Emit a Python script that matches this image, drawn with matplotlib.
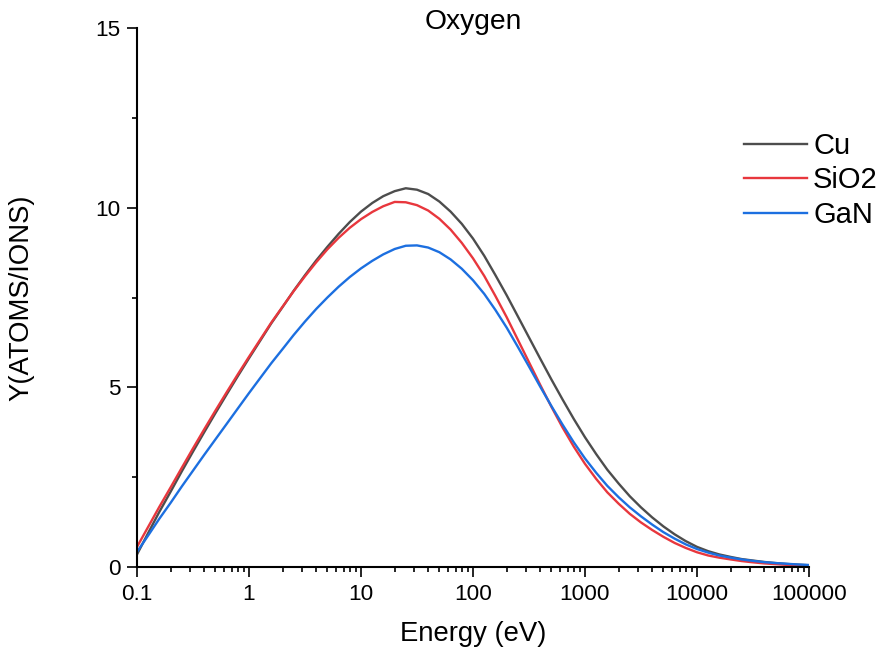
import matplotlib
matplotlib.use("Agg")
import matplotlib.pyplot as plt
from matplotlib.ticker import LogLocator, MultipleLocator, NullFormatter


# -----------------------------
# Data
# -----------------------------

energy = [0.1, 0.126, 0.158, 0.2, 0.251, 0.316, 0.398, 0.501, 0.631, 0.794,
          1, 1.26, 1.58, 2, 2.51, 3.16, 3.98, 5.01, 6.31, 7.94,
          10, 12.6, 15.8, 20, 25.1, 31.6, 39.8, 50.1, 63.1, 79.4,
          100, 126, 158, 200, 251, 316, 398, 501, 631, 794,
          1000, 1260, 1580, 2000, 2510, 3160, 3980, 5010, 6310, 7940,
          10000, 12600, 15800, 20000, 25100, 31600, 39800, 50100, 63100,
          79400, 100000]

yield_cu = [0.35, 0.95, 1.53, 2.10, 2.66, 3.21, 3.75, 4.28, 4.80, 5.31,
            5.81, 6.30, 6.78, 7.24, 7.69, 8.12, 8.53, 8.91, 9.27, 9.60,
            9.89, 10.13, 10.32, 10.46, 10.54, 10.50, 10.38, 10.17, 9.89, 9.55,
            9.14, 8.66, 8.13, 7.56, 6.98, 6.39, 5.80, 5.22, 4.66, 4.12,
            3.61, 3.14, 2.71, 2.32, 1.97, 1.66, 1.38, 1.13, 0.91, 0.72,
            0.56, 0.44, 0.35, 0.28, 0.22, 0.18, 0.14, 0.11, 0.085,
            0.065, 0.05]

yield_sio2 = [0.56, 1.12, 1.67, 2.22, 2.76, 3.30, 3.83, 4.35, 4.86, 5.36,
              5.85, 6.33, 6.80, 7.25, 7.68, 8.09, 8.48, 8.84, 9.16, 9.44,
              9.68, 9.88, 10.04, 10.16, 10.15, 10.07, 9.92, 9.69, 9.39, 9.02,
              8.59, 8.10, 7.55, 6.95, 6.33, 5.70, 5.07, 4.46, 3.88, 3.35,
              2.87, 2.45, 2.08, 1.76, 1.48, 1.24, 1.03, 0.84, 0.67, 0.53,
              0.41, 0.32, 0.26, 0.21, 0.165, 0.13, 0.10, 0.08, 0.06,
              0.045, 0.035]

yield_gan = [0.42, 0.88, 1.34, 1.79, 2.24, 2.68, 3.12, 3.55, 3.98, 4.41,
             4.84, 5.26, 5.67, 6.07, 6.46, 6.83, 7.18, 7.50, 7.80, 8.07,
             8.31, 8.52, 8.70, 8.85, 8.94, 8.95, 8.89, 8.76, 8.56, 8.30,
             7.98, 7.60, 7.16, 6.66, 6.13, 5.58, 5.02, 4.48, 3.96, 3.47,
             3.02, 2.62, 2.26, 1.94, 1.66, 1.41, 1.18, 0.97, 0.79, 0.63,
             0.50, 0.40, 0.32, 0.26, 0.21, 0.17, 0.135, 0.11, 0.09,
             0.07, 0.055]

x_ticks = [0.1, 1, 10, 100, 1000, 10000, 100000]
x_tick_labels = ["0.1", "1", "10", "100", "1000", "10000", "100000"]
y_ticks = [0, 5, 10, 15]

series = [
    ("Cu", yield_cu, "#4d4d4d"),
    ("SiO2", yield_sio2, "#e8373d"),
    ("GaN", yield_gan, "#1c6fe0"),
]

plt.rcParams["font.family"] = ["Liberation Sans", "DejaVu Sans"]

# -----------------------------
# Plot
# -----------------------------

fig = plt.figure(figsize=(8.78, 6.5), dpi=100)
ax = fig.add_axes([137 / 878, 83 / 650, 672 / 878, 539 / 650])

for name, values, color in series:
    ax.plot(energy, values, color=color, linewidth=1.7, label=name,
            solid_joinstyle="round")

ax.set_xscale("log")
ax.set_xlim(0.1, 100000)
ax.set_ylim(0, 15)

ax.set_xticks(x_ticks)
ax.set_xticklabels(x_tick_labels)
ax.xaxis.set_minor_locator(LogLocator(base=10, subs=range(2, 10), numticks=20))
ax.xaxis.set_minor_formatter(NullFormatter())

ax.set_yticks(y_ticks)
ax.yaxis.set_minor_locator(MultipleLocator(2.5))

for side in ["top", "right"]:
    ax.spines[side].set_visible(False)
for side in ["left", "bottom"]:
    ax.spines[side].set_linewidth(1.5)

ax.tick_params(which="major", direction="out", length=7, width=1.2,
               labelsize=16.2, pad=5)
ax.tick_params(which="minor", direction="out", length=3.5, width=1.2)

# title placed by hand, just under the top of the y axis
fig.text(473 / 878, 1 - 29 / 650, "Oxygen", fontsize=20.3,
         ha="center", va="baseline")
ax.set_xlabel("Energy (eV)", fontsize=19.8, labelpad=12)
ax.set_ylabel("Y(ATOMS/IONS)", fontsize=19.8, labelpad=44)

ax.legend(loc="upper left", bbox_to_anchor=(744 / 878, 1 - 132 / 650),
          bbox_transform=fig.transFigure, frameon=False, fontsize=21,
          handlelength=2.15, handletextpad=0.22, labelspacing=0.22,
          borderpad=0, borderaxespad=0)

fig.savefig("out.png", dpi=100)
